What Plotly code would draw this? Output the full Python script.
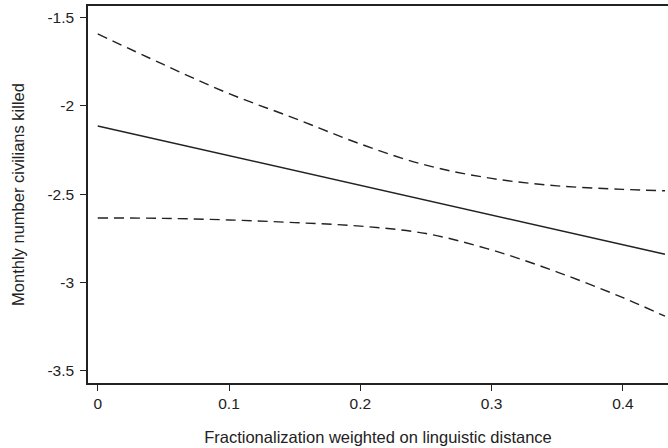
import plotly.graph_objects as go

x_vals = [0.0, 0.05, 0.1, 0.15, 0.2, 0.25, 0.3, 0.35, 0.4, 0.432]
estimate = [-2.113, -2.197, -2.281, -2.365, -2.449, -2.533, -2.617, -2.701, -2.785, -2.839]
upper = [-1.592, -1.765, -1.93, -2.07, -2.215, -2.335, -2.41, -2.452, -2.472, -2.48]
lower = [-2.634, -2.636, -2.645, -2.66, -2.68, -2.722, -2.815, -2.94, -3.085, -3.19]

x_ticks = [0, 0.1, 0.2, 0.3, 0.4]
x_ticklabels = ["0", "0.1", "0.2", "0.3", "0.4"]
y_ticks = [-3.5, -3, -2.5, -2, -1.5]
y_ticklabels = ["-3.5", "-3", "-2.5", "-2", "-1.5"]

col = "#222222"
fig = go.Figure()
fig.add_trace(go.Scatter(x=x_vals, y=upper, mode="lines",
                         line=dict(color=col, width=1.4, dash="10px,6px", shape="spline")))
fig.add_trace(go.Scatter(x=x_vals, y=estimate, mode="lines",
                         line=dict(color=col, width=1.4)))
fig.add_trace(go.Scatter(x=x_vals, y=lower, mode="lines",
                         line=dict(color=col, width=1.4, dash="10px,6px", shape="spline")))

fig.update_layout(
    width=668, height=448,
    margin=dict(l=88, r=0, t=6, b=65),
    paper_bgcolor="white", plot_bgcolor="white",
    showlegend=False,
    font=dict(family="Liberation Sans, Arial, sans-serif", color="#222222", size=15.5),
    xaxis=dict(range=[-0.0074, 0.4343], tickvals=x_ticks, ticktext=x_ticklabels,
               automargin=False,
               showgrid=False, zeroline=False, showline=True, linecolor=col, linewidth=1.5,
               mirror=True, ticks="outside", ticklen=6, tickcolor=col, tickwidth=1,
               title=dict(text="Fractionalization weighted on linguistic distance",
                          font=dict(size=16.5), standoff=20)),
    yaxis=dict(range=[-3.568, -1.434], tickvals=y_ticks, ticktext=y_ticklabels,
               automargin=False, ticklabelstandoff=3,
               showgrid=False, zeroline=False, showline=True, linecolor=col, linewidth=1.5,
               ticks="outside", ticklen=6, tickcolor=col, tickwidth=1,
               title=dict(text="Monthly number civilians killed", font=dict(size=16.5), standoff=19)),
)
fig.write_html("out.html", config={"displayModeBar": False},
               post_script="document.body.style.margin='0';document.body.style.overflow='hidden';")
